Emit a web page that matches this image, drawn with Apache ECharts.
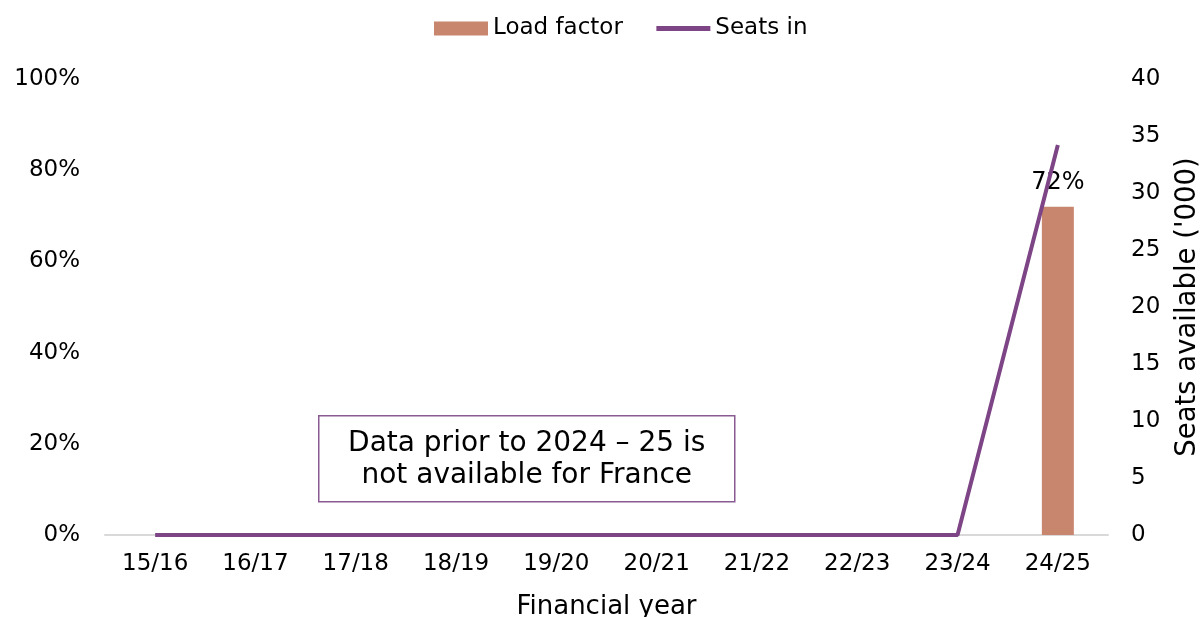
<!doctype html>
<html lang='en'>
<head>
<title>Load factor - France</title>
<meta charset='utf-8'>
<style>
html, body { margin: 0; padding: 0; background: #fff; overflow: hidden; }
#chart { width: 1202px; height: 617px; }
</style>
</head>
<body>
<div id="chart"></div>
<script src="https://cdn.jsdelivr.net/npm/echarts@6/dist/echarts.min.js"></script>
<script>
// data
const years = ['15/16', '16/17', '17/18', '18/19', '19/20', '20/21', '21/22', '22/23', '23/24', '24/25'];
const loadFactor = [null, null, null, null, null, null, null, null, null, 72];
const seatsIn = [0, 0, 0, 0, 0, 0, 0, 0, 0, 34.2];
const noteLines = ['Data prior to 2024 \u2013 25 is', 'not available for France'];

const font = 'DejaVu Sans';
const txt = '#000';
const purple = '#7d4486';

const chart = echarts.init(document.getElementById('chart'));
chart.setOption({
    animation: false,
    textStyle: { fontFamily: font },
    legend: {
        top: 12,
        left: 429,
        itemGap: 31,
        itemWidth: 54,
        itemHeight: 14,
        textStyle: { fontSize: 23, color: txt, fontFamily: font },
        data: [
            { name: 'Load factor', icon: 'rect' },
            { name: 'Seats in', itemStyle: { opacity: 0 }, lineStyle: { width: 5, color: purple } }
        ]
    },
    grid: { left: 105, right: 94, top: 79, bottom: 82, outerBoundsMode: 'none', containLabel: false },
    xAxis: {
        type: 'category',
        data: years,
        name: 'Financial year',
        nameLocation: 'middle',
        nameGap: 59,
        nameTextStyle: { fontSize: 26, color: txt },
        axisLine: { lineStyle: { color: '#d9d9d9', width: 2 } },
        axisTick: { show: false },
        axisLabel: { fontSize: 23, color: txt, margin: 18 }
    },
    yAxis: [{
        type: 'value',
        min: 0, max: 100, interval: 20,
        axisLine: { show: false },
        axisTick: { show: false },
        splitLine: { show: false },
        axisLabel: { fontSize: 23, color: txt, margin: 25, formatter: '{value}%' }
    }, {
        type: 'value',
        min: 0, max: 40, interval: 5,
        name: "Seats available ('000)",
        nameLocation: 'middle',
        nameRotate: 90,
        nameGap: 66,
        nameTextStyle: { fontSize: 27.5, color: txt },
        axisLine: { show: false },
        axisTick: { show: false },
        splitLine: { show: false },
        axisLabel: { fontSize: 23, color: txt, margin: 23 }
    }],
    series: [{
        name: 'Load factor',
        type: 'bar',
        yAxisIndex: 0,
        barWidth: 32,
        itemStyle: { color: '#c8866f' },
        label: {
            show: true,
            position: 'top',
            distance: 12,
            fontSize: 24,
            color: txt,
            formatter: '{c}%'
        },
        data: loadFactor
    }, {
        name: 'Seats in',
        type: 'line',
        yAxisIndex: 1,
        symbol: 'none',
        z: 5,
        lineStyle: { color: purple, width: 4 },
        itemStyle: { color: purple },
        data: seatsIn
    }],
    graphic: [{
        type: 'group',
        left: 318,
        top: 415,
        children: [{
            type: 'rect',
            shape: { x: 0, y: 0, width: 416, height: 86 },
            style: { fill: '#fff', stroke: '#8a5a93', lineWidth: 1.5 }
        }, {
            type: 'text',
            x: 208,
            y: 44,
            style: {
                text: noteLines.join('\n'),
                font: '28px "DejaVu Sans"',
                fill: txt,
                align: 'center',
                verticalAlign: 'middle',
                lineHeight: 32
            }
        }]
    }]
});
</script>
</body>
</html>
